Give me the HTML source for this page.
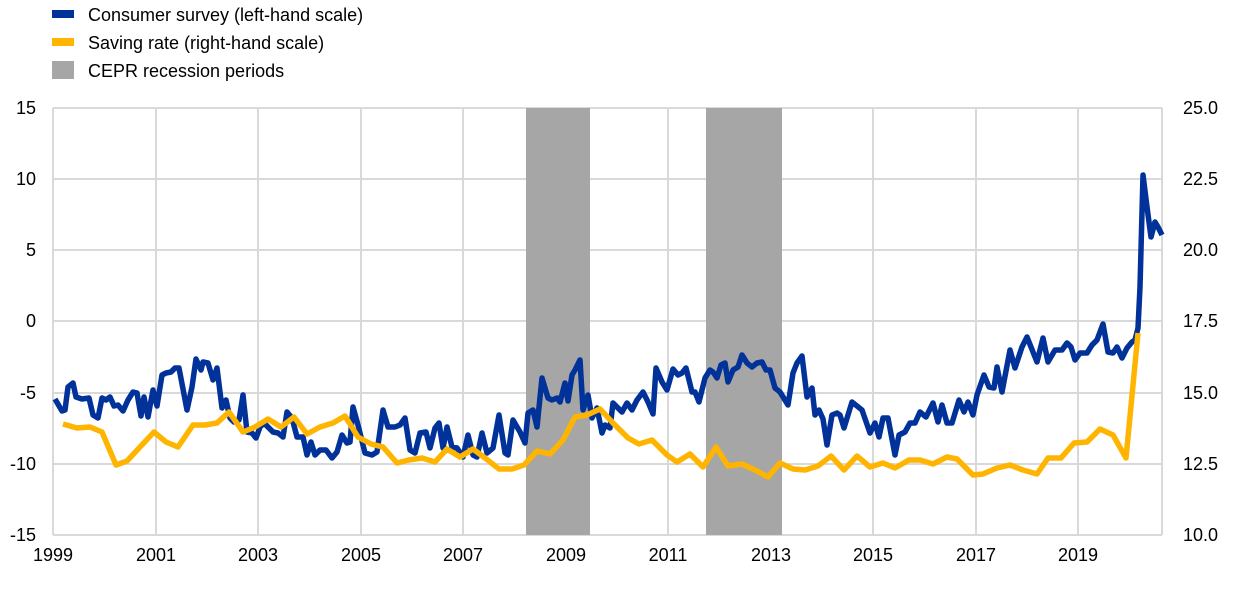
<!DOCTYPE html>
<html><head><meta charset="utf-8"><style>
body{margin:0;background:#fff;}
svg text{font-family:"Liberation Sans",Arial,sans-serif;font-size:18px;fill:#000;}
</style></head><body>
<svg width="1240" height="599" xmlns="http://www.w3.org/2000/svg">
<rect x="0" y="0" width="1240" height="599" fill="#fff"/>
<!-- legend -->
<rect x="52" y="10" width="22" height="8" fill="#003299"/>
<text x="88" y="21">Consumer survey (left-hand scale)</text>
<rect x="52" y="38" width="22" height="8" fill="#FFB400"/>
<text x="88" y="49">Saving rate (right-hand scale)</text>
<rect x="52" y="61" width="22" height="18" fill="#a6a6a6"/>
<text x="88" y="77">CEPR recession periods</text>
<!-- grid -->
<g stroke="#d9d9d9" stroke-width="2">
<line x1="53" y1="108" x2="1162" y2="108"/>
<line x1="53" y1="179" x2="1162" y2="179"/>
<line x1="53" y1="250" x2="1162" y2="250"/>
<line x1="53" y1="321" x2="1162" y2="321"/>
<line x1="53" y1="393" x2="1162" y2="393"/>
<line x1="53" y1="464" x2="1162" y2="464"/>
<line x1="53" y1="535" x2="1162" y2="535"/>
<line x1="53" y1="108" x2="53" y2="535"/>
<line x1="156" y1="108" x2="156" y2="535"/>
<line x1="258" y1="108" x2="258" y2="535"/>
<line x1="361" y1="108" x2="361" y2="535"/>
<line x1="463" y1="108" x2="463" y2="535"/>
<line x1="566" y1="108" x2="566" y2="535"/>
<line x1="668" y1="108" x2="668" y2="535"/>
<line x1="771" y1="108" x2="771" y2="535"/>
<line x1="873" y1="108" x2="873" y2="535"/>
<line x1="976" y1="108" x2="976" y2="535"/>
<line x1="1078" y1="108" x2="1078" y2="535"/>
<line x1="1162" y1="108" x2="1162" y2="535"/>
</g>
<!-- recessions -->
<rect x="526" y="108" width="64" height="427" fill="#a6a6a6"/>
<rect x="706" y="108" width="76" height="427" fill="#a6a6a6"/>
<!-- left labels -->
<g text-anchor="end">
<text x="36" y="114">15</text>
<text x="36" y="185">10</text>
<text x="36" y="256">5</text>
<text x="36" y="327">0</text>
<text x="36" y="399">-5</text>
<text x="36" y="470">-10</text>
<text x="36" y="541">-15</text>
</g>
<g text-anchor="start">
<text x="1183" y="114">25.0</text>
<text x="1183" y="185">22.5</text>
<text x="1183" y="256">20.0</text>
<text x="1183" y="327">17.5</text>
<text x="1183" y="399">15.0</text>
<text x="1183" y="470">12.5</text>
<text x="1183" y="541">10.0</text>
</g>
<g text-anchor="middle">
<text x="53" y="561">1999</text>
<text x="156" y="561">2001</text>
<text x="258" y="561">2003</text>
<text x="361" y="561">2005</text>
<text x="463" y="561">2007</text>
<text x="566" y="561">2009</text>
<text x="668" y="561">2011</text>
<text x="771" y="561">2013</text>
<text x="873" y="561">2015</text>
<text x="976" y="561">2017</text>
<text x="1078" y="561">2019</text>
</g>
<!-- consumer survey -->
<polyline fill="none" stroke="#003299" stroke-width="5.5" stroke-linejoin="round" points="55,399 62,411 65,410 68,387 73,383 76,397 82,399 89,398 93,415 98,418 102,398 106,400 110,397 114,406 118,405 123,411 128,400 133,392 137,393 141,416 144,397 148,417 153,390 157,406 162,375 166,373 171,372 175,368 179,368 187,410 192,387 196,359 201,370 203,362 208,363 213,380 217,368 222,408 226,400 230,418 234,422 239,420 243,395 247,432 252,433 256,438 260,427 264,423 268,427 273,432 278,433 283,437 287,412 292,418 297,437 303,437 307,455 311,442 315,455 320,450 326,450 332,458 337,452 342,435 347,443 350,442 353,407 358,425 365,453 372,455 377,452 383,410 388,427 395,427 400,425 405,418 410,450 415,453 420,433 426,432 430,448 435,428 439,423 443,448 447,427 452,447 457,448 463,457 468,435 473,455 477,457 482,433 487,453 493,448 499,415 505,453 508,455 513,420 520,432 525,443 528,413 533,410 537,427 542,378 548,398 552,400 557,398 560,402 565,383 568,401 572,375 575,370 580,360 583,410 588,395 592,418 597,408 602,433 605,425 610,428 613,403 618,408 622,412 627,403 632,410 637,400 643,392 648,402 653,414 656,368 662,382 667,390 673,369 678,375 682,373 686,368 692,392 695,392 699,402 705,378 710,370 713,372 717,378 721,365 725,363 728,382 733,370 738,367 742,355 747,363 752,367 757,363 762,362 766,370 770,370 775,388 780,392 788,405 793,373 797,363 802,356 807,397 812,388 815,415 819,410 823,419 827,445 832,415 837,413 840,415 844,428 852,402 862,410 870,433 875,423 879,437 883,418 888,418 895,455 899,435 905,432 910,423 915,423 920,412 926,417 933,403 938,422 942,405 947,423 952,423 959,400 964,412 968,402 973,415 977,395 984,375 989,387 994,388 997,367 1002,392 1010,350 1015,368 1022,347 1027,337 1037,362 1043,338 1048,362 1055,350 1062,350 1067,343 1071,347 1075,360 1080,353 1087,353 1092,345 1097,340 1103,324 1108,352 1113,353 1117,347 1122,358 1127,348 1132,342 1135,340 1138,328 1140,287 1143,175 1147,207 1151,237 1155,222 1158,227 1162,235"/>
<!-- saving rate -->
<polyline fill="none" stroke="#FFB400" stroke-width="5.5" stroke-linejoin="round" points="63,424 77,428 90,427 102,432 116,465 127,461 140,447 154,432 166,442 178,447 193,425 205,425 217,423 229,412 243,432 255,427 268,419 281,427 294,417 307,434 320,427 333,423 345,416 358,437 371,444 383,447 397,463 409,460 422,458 435,462 447,449 460,457 473,449 485,458 499,469 512,469 524,465 537,451 550,454 563,440 575,417 587,415 600,409 613,423 628,438 639,444 652,440 667,455 677,462 690,454 703,467 716,447 728,466 742,464 755,470 768,477 780,463 793,469 805,470 818,466 831,456 844,470 857,456 870,467 883,463 895,468 909,460 920,460 933,464 947,457 957,459 973,475 983,474 997,468 1010,465 1023,470 1037,474 1048,458 1061,458 1074,443 1087,442 1100,429 1113,435 1126,458 1138,333"/>
</svg>
</body></html>
